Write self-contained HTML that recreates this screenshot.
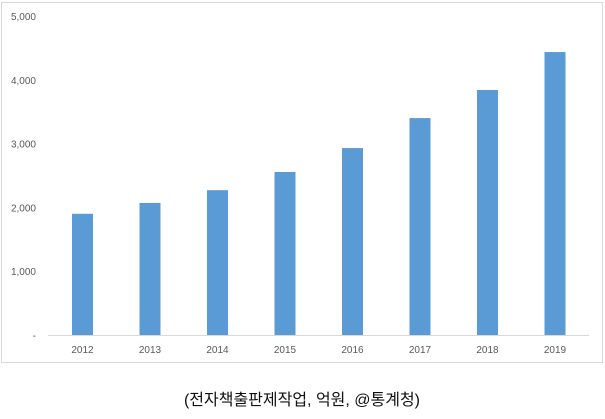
<!DOCTYPE html>
<html><head><meta charset="utf-8"><style>
body{margin:0;background:#fff;width:605px;height:419px;overflow:hidden}
svg{display:block}
</style></head><body>
<svg width="605" height="419" font-family="'Liberation Sans','Noto Sans CJK KR',sans-serif">
<rect x="1.5" y="2.5" width="601" height="360" fill="#fff" stroke="#d9d9d9"/>
<g id="ylabels"></g><g id="bars"></g><g id="xlabels"></g>
<line x1="48" x2="589" y1="335.5" y2="335.5" stroke="#d9d9d9"/>
<text x="302" y="405" text-anchor="middle" font-size="16" fill="#111">(전자책출판제작업, 억원, @통계청)</text>
</svg>
<script>
const categories=["2012","2013","2014","2015","2016","2017","2018","2019"];
const values=[1900,2070,2270,2555,2930,3400,3840,4435];
const yTicks=[0,1000,2000,3000,4000,5000];
const yTickLabels=["-","1,000","2,000","3,000","4,000","5,000"];
const NS="http://www.w3.org/2000/svg";
const y0=335,yTop=16,yMax=5000,x0=48.75,step=67.5,bw=21;
const y=v=>y0-(v/yMax)*(y0-yTop);
const xc=i=>x0+step*(i+0.5);
const gy=document.getElementById('ylabels'),gb=document.getElementById('bars'),gx=document.getElementById('xlabels');
yTicks.forEach((t,i)=>{const e=document.createElementNS(NS,'text');


e.setAttribute('x',t===0?36:36);e.setAttribute('y',y(t)+4);e.setAttribute('text-anchor','end');
e.setAttribute('font-size','10');e.setAttribute('fill','#595959');e.textContent=yTickLabels[i];gy.appendChild(e);});
values.forEach((v,i)=>{const r=document.createElementNS(NS,'rect');


r.setAttribute('x',xc(i)-bw/2);r.setAttribute('y',y(v));r.setAttribute('width',bw);r.setAttribute('height',y0-y(v));
r.setAttribute('fill','#5b9bd5');gb.appendChild(r);
const t=document.createElementNS(NS,'text');


t.setAttribute('x',xc(i));t.setAttribute('y',353);t.setAttribute('text-anchor','middle');
t.setAttribute('font-size','10');t.setAttribute('fill','#595959');t.textContent=categories[i];gx.appendChild(t);});
</script>
</body></html>
